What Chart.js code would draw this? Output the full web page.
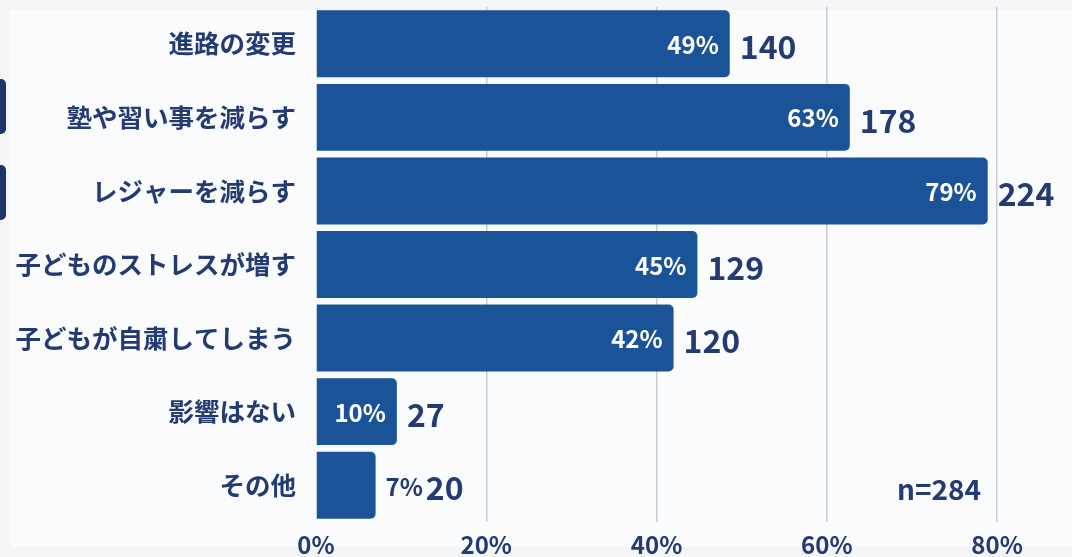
<!DOCTYPE html>
<html>
<head>
<meta charset="utf-8">
<script src="https://cdn.jsdelivr.net/npm/chart.js@4"></script>
<style>
  html, body { margin: 0; padding: 0; background: #f4f5f7; }
  #wrap { position: relative; width: 1072px; height: 557px; overflow: hidden; }
  .panel { position: absolute; left: 10px; top: 10px; width: 1062px; height: 537px; background: #fafbfd; }
  .tab { position: absolute; left: 0; width: 6px; height: 55px; background: #1f3468; border-radius: 0 5px 5px 0; }
  canvas { position: absolute; left: 0; top: 0; }
</style>
</head>
<body>
<div id="wrap">
  <div class="panel"></div>
  <div class="tab" style="top:79px"></div>
  <div class="tab" style="top:165px"></div>
  <canvas id="grafico" width="1072" height="557"></canvas>
</div>
<script>
const categorias = ['進路の変更', '塾や習い事を減らす', 'レジャーを減らす', '子どものストレスが増す', '子どもが自粛してしまう', '影響はない', 'その他'];
const cantidades = [140, 178, 224, 129, 120, 27, 20];
const porcentajes = [48.6, 62.7, 78.9, 44.8, 42.0, 9.5, 7.0];
const etiquetasPct = ['49%', '63%', '79%', '45%', '42%', '10%', '7%'];
const ticksX = [0, 20, 40, 60, 80];
const nota = 'n=284';

const FUENTE = "'Noto Sans CJK JP', 'Noto Sans', sans-serif";
const AZUL = '#1b5398';
const TEXTO = '#243a72';

const etiquetasBarras = {
  id: 'etiquetasBarras',
  afterDatasetsDraw(chart) {
    const ctx = chart.ctx;
    const meta = chart.getDatasetMeta(0);
    ctx.save();
    ctx.textBaseline = 'middle';
    meta.data.forEach((bar, i) => {
      const base = chart.scales.x.getPixelForValue(0);
      const largo = bar.x - base;
      ctx.font = 'bold 24px ' + FUENTE;
      const pct = etiquetasPct[i];
      const wPct = ctx.measureText(pct).width;
      let xCount;
      if (largo > 70) {
        ctx.fillStyle = '#ffffff';
        ctx.textAlign = 'right';
        ctx.fillText(pct, bar.x - 11, bar.y + 1);
        xCount = bar.x + 10;
      } else {
        ctx.fillStyle = TEXTO;
        ctx.textAlign = 'left';
        ctx.fillText(pct, bar.x + 10, bar.y + 2);
        xCount = bar.x + 10 + wPct + 3;
      }
      ctx.font = 'bold 32px ' + FUENTE;
      ctx.fillStyle = TEXTO;
      ctx.textAlign = 'left';
      ctx.fillText(String(cantidades[i]), xCount, bar.y + 3);
    });
    // nota de muestra
    const ultima = meta.data[meta.data.length - 1];
    ctx.font = 'bold 28px ' + FUENTE;
    ctx.textAlign = 'right';
    ctx.fillStyle = TEXTO;
    ctx.fillText(nota, chart.scales.x.getPixelForValue(80) - 16, ultima.y + 4);
    ctx.restore();
  }
};

new Chart(document.getElementById('grafico'), {
  type: 'bar',
  data: {
    labels: categorias,
    datasets: [{
      data: porcentajes,
      backgroundColor: AZUL,
      borderRadius: 5,
      borderSkipped: 'start',
      barPercentage: 0.91,
      categoryPercentage: 1
    }]
  },
  options: {
    indexAxis: 'y',
    responsive: false,
    animation: false,
    layout: { padding: { top: 7, right: 0, left: 0, bottom: 0 } },
    plugins: { legend: { display: false }, tooltip: { enabled: false } },
    scales: {
      x: {
        min: 0,
        max: 88.8,
        afterFit: s => { s.height = 35; s.paddingLeft = 0; s.paddingRight = 0; },
        afterBuildTicks: s => { s.ticks = ticksX.map(v => ({ value: v })); },
        border: { display: false },
        grid: {
          color: c => (c.tick && c.tick.value === 0 ? 'rgba(0,0,0,0)' : '#c9ccd8'),
          lineWidth: 1.5,
          drawTicks: false
        },
        ticks: {
          padding: 8,
          color: TEXTO,
          font: { family: FUENTE, size: 24, weight: 'bold' },
          callback: v => v + '%'
        }
      },
      y: {
        afterFit: s => { s.width = 316; s.paddingTop = 0; s.paddingBottom = 0; },
        border: { display: false },
        grid: { display: false, drawTicks: false },
        ticks: {
          padding: 20,
          color: TEXTO,
          font: { family: FUENTE, size: 25.5, weight: 'bold' }
        }
      }
    }
  },
  plugins: [etiquetasBarras]
});
</script>
</body>
</html>
